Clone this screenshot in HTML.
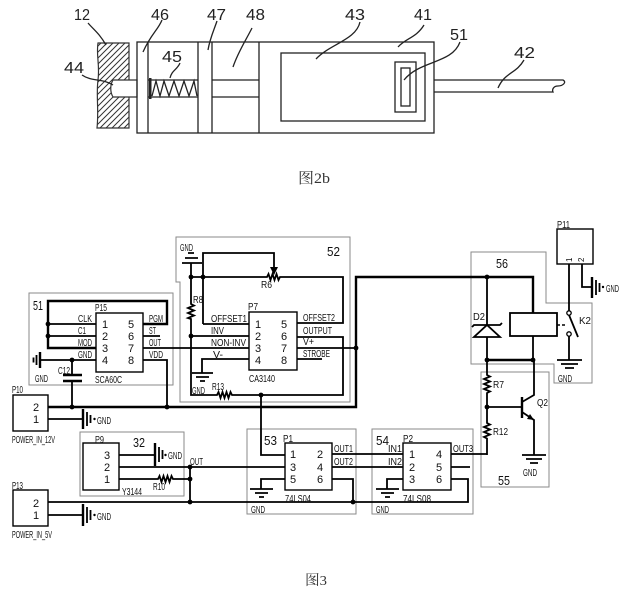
<!DOCTYPE html>
<html><head><meta charset="utf-8"><style>
html,body{margin:0;padding:0;background:#fff;}
svg{display:block;}
.w{stroke:#000;stroke-width:1.8;fill:none;}
.t{stroke:#000;stroke-width:2.4;fill:none;}
.b{stroke:#8a8a8a;stroke-width:1;fill:none;}
.c{stroke:#000;stroke-width:1.4;fill:#fff;}
.m{stroke:#222;stroke-width:1.3;fill:none;}
text{font-family:"Liberation Sans Narrow","Liberation Sans",sans-serif;fill:#111;}
.s{font-size:10px;}
.n{font-size:11px;}
.L{font-size:16px;fill:#222;}
</style></head><body>
<svg width="632" height="592" viewBox="0 0 632 592" xmlns="http://www.w3.org/2000/svg">
<defs>
<pattern id="h" patternUnits="userSpaceOnUse" width="6" height="6">
<path d="M-1,1 l2,-2 M0,6 l6,-6 M5,7 l2,-2" stroke="#333" stroke-width="1"/>
</pattern>
</defs>
<rect width="632" height="592" fill="#fff"/>

<!-- ===== Figure 2b ===== -->
<path d="M98,43 H129 V128 H97 C99,110 96,95 98,80 C100,65 96,55 98,43 Z" fill="url(#h)" stroke="#333" stroke-width="1.2"/>
<path d="M113,80 H137 V97 H113 C110,92 110,85 113,80 Z" fill="#fff" stroke="#333" stroke-width="1.2"/>
<rect x="137" y="42" width="297" height="91" class="m" fill="#fff"/>
<path class="m" d="M148,42 V133 M198,42 V133 M212,42 V133 M259,42 V133"/>
<path class="m" d="M148,80 H198 M148,97 H198 M212,80 H259 M212,97 H259"/>
<rect x="149" y="78" width="2.5" height="21" fill="#222"/>
<path class="m" d="M152,96 L156,81 L160,96 L164,81 L169,96 L174,81 L179,96 L184,81 L189,96 L194,81 L197,96"/>
<rect x="281" y="53" width="144" height="68" class="m"/>
<rect x="395" y="62" width="21" height="50" class="m"/>
<rect x="401" y="68" width="9" height="38" class="m"/>
<path class="m" d="M434,80 H563 C567,82 563,86 558,86 C553,86 552,90 553,92 H434"/>
<!-- leaders -->
<path class="m" d="M88,23 C94,30 99,33 106,45"/>
<path class="m" d="M162,20 C158,30 151,34 143,52"/>
<path class="m" d="M217,21 C214,30 210,38 208,50"/>
<path class="m" d="M252,28 C246,40 238,52 233,67"/>
<path class="m" d="M180,63 C177,70 172,70 170,78"/>
<path class="m" d="M82,75 C92,82 102,78 113,85"/>
<path class="m" d="M360,22 C356,40 330,44 316,59"/>
<path class="m" d="M424,25 C416,38 406,38 398,47"/>
<path class="m" d="M460,42 C452,64 420,60 404,80"/>
<path class="m" d="M524,60 C516,74 505,72 498,88"/>
<text class="L" x="74" y="20" textLength="16" lengthAdjust="spacingAndGlyphs">12</text>
<text class="L" x="151" y="20" textLength="18" lengthAdjust="spacingAndGlyphs">46</text>
<text class="L" x="207" y="20" textLength="19" lengthAdjust="spacingAndGlyphs">47</text>
<text class="L" x="246" y="20" textLength="19" lengthAdjust="spacingAndGlyphs">48</text>
<text class="L" x="345" y="20" textLength="20" lengthAdjust="spacingAndGlyphs">43</text>
<text class="L" x="414" y="20" textLength="18" lengthAdjust="spacingAndGlyphs">41</text>
<text class="L" x="450" y="40" textLength="18" lengthAdjust="spacingAndGlyphs">51</text>
<text class="L" x="514" y="58" textLength="21" lengthAdjust="spacingAndGlyphs">42</text>
<text class="L" x="64" y="73" textLength="20" lengthAdjust="spacingAndGlyphs">44</text>
<text class="L" x="162" y="62" textLength="20" lengthAdjust="spacingAndGlyphs">45</text>
<text x="298" y="183" style="font-family:'Liberation Serif','Noto Serif CJK SC',serif;font-size:15px;fill:#333" textLength="32" lengthAdjust="spacingAndGlyphs">图2b</text>

<!-- ===== Figure 3 ===== -->
<!-- block outlines -->
<rect x="29" y="293" width="144" height="92" class="b"/>
<path class="b" d="M176,237 H350 V402 H180 V282 H176 Z"/>
<path class="b" d="M471,252 H546 V303 H592 V383 H554 V364 H471 Z"/>
<rect x="481" y="372" width="68" height="115" class="b"/>
<rect x="80" y="432" width="104" height="64" class="b"/>
<rect x="247" y="429" width="109" height="85" class="b"/>
<rect x="372" y="429" width="101" height="85" class="b"/>

<!-- Block 51 : SCA60C -->
<rect x="96" y="313" width="47" height="59" class="c"/>
<path class="t" d="M143,324 H167 V301 H48 V348 H96"/>
<path class="w" d="M48,324 H96 M48,336 H96 M143,336 H160"/>
<path class="w" d="M143,360 H167 V407"/>
<path class="w" d="M40,360 H96"/>
<path class="t" d="M40,352 V368"/>
<path class="w" d="M36.5,355 V365 M33.5,357.5 V362.5"/>
<path class="w" d="M72,360 V375 M72,381 V407"/>
<path class="t" d="M63,375 H82 M63,381 H82"/>
<text class="s" x="33" y="310" style="font-size:13px" textLength="10" lengthAdjust="spacingAndGlyphs">51</text>
<text class="s" x="95" y="311" textLength="12" lengthAdjust="spacingAndGlyphs">P15</text>
<text class="s" x="78" y="322" textLength="14" lengthAdjust="spacingAndGlyphs">CLK</text>
<text class="s" x="78" y="334" textLength="8" lengthAdjust="spacingAndGlyphs">C1</text>
<text class="s" x="78" y="346" textLength="14" lengthAdjust="spacingAndGlyphs">MOD</text>
<text class="s" x="78" y="358" textLength="14" lengthAdjust="spacingAndGlyphs">GND</text>
<text class="s" x="149" y="322" textLength="14" lengthAdjust="spacingAndGlyphs">PGM</text>
<text class="s" x="149" y="334" textLength="7" lengthAdjust="spacingAndGlyphs">ST</text>
<text class="s" x="149" y="346" textLength="12" lengthAdjust="spacingAndGlyphs">OUT</text>
<text class="s" x="149" y="358" textLength="14" lengthAdjust="spacingAndGlyphs">VDD</text>
<text class="s" x="95" y="383" textLength="27" lengthAdjust="spacingAndGlyphs">SCA60C</text>
<text class="s" x="58" y="374" textLength="12" lengthAdjust="spacingAndGlyphs">C12</text>
<text class="s" x="35" y="382" textLength="13" lengthAdjust="spacingAndGlyphs">GND</text>
<g class="n" text-anchor="middle">
<text x="105" y="328">1</text><text x="105" y="340">2</text><text x="105" y="352">3</text><text x="105" y="364">4</text>
<text x="131" y="328">5</text><text x="131" y="340">6</text><text x="131" y="352">7</text><text x="131" y="364">8</text>
</g>

<!-- Block 52 : CA3140 -->
<rect x="249" y="312" width="48" height="58" class="c"/>
<path class="w" d="M182,263 H202 M185,258 H198 M188,253 H194"/>
<path class="w" d="M191,263 V304 L194,305.5 L188,308 L194,310.5 L188,313 L194,315.5 L188,318 L191,319 V395 H217 L218.5,392 L220.5,398 L222.5,392 L224.5,398 L226.5,392 L228.5,398 L230.5,392 L232,395 H343 V337 H297"/>
<path class="w" d="M191,277 H267 L268.5,274 L270.5,280 L272.5,274 L274.5,280 L276.5,274 L278.5,280 L280,277 H343 V323 H297"/>
<path class="w" d="M203,324 V253 H274 V268"/>
<path d="M270,267 L278,267 L274,275 Z" fill="#000"/>
<path class="w" d="M203,324 H249 M191,336 H249 M143,348 H249"/>
<path class="w" d="M249,359 H202 V373"/>
<path class="w" d="M192,373 H213 M196,377 H209 M200,381 H205"/>
<path class="w" d="M297,348 H356 M297,359 H322"/>
<path class="w" d="M261,395 V455 H285"/>
<path class="t" d="M48,407 H356 V277 H533 V313"/>
<text class="s" x="180" y="251" textLength="13" lengthAdjust="spacingAndGlyphs">GND</text>
<text class="s" x="327" y="256" style="font-size:13px" textLength="13" lengthAdjust="spacingAndGlyphs">52</text>
<text class="s" x="193" y="303" textLength="10" lengthAdjust="spacingAndGlyphs">R8</text>
<text class="s" x="261" y="288" textLength="11" lengthAdjust="spacingAndGlyphs">R6</text>
<text class="s" x="248" y="310" textLength="10" lengthAdjust="spacingAndGlyphs">P7</text>
<text class="s" x="211" y="322" textLength="36" lengthAdjust="spacingAndGlyphs">OFFSET1</text>
<text class="s" x="211" y="334" textLength="13" lengthAdjust="spacingAndGlyphs">INV</text>
<text class="s" x="211" y="346" textLength="35" lengthAdjust="spacingAndGlyphs">NON-INV</text>
<text class="s" x="213" y="358" textLength="10" lengthAdjust="spacingAndGlyphs">V-</text>
<text class="s" x="303" y="321" textLength="32" lengthAdjust="spacingAndGlyphs">OFFSET2</text>
<text class="s" x="303" y="334" textLength="29" lengthAdjust="spacingAndGlyphs">OUTPUT</text>
<text class="s" x="303" y="345" textLength="11" lengthAdjust="spacingAndGlyphs">V+</text>
<text class="s" x="303" y="357" textLength="27" lengthAdjust="spacingAndGlyphs">STROBE</text>
<text class="s" x="249" y="382" textLength="26" lengthAdjust="spacingAndGlyphs">CA3140</text>
<text class="s" x="192" y="394" textLength="13" lengthAdjust="spacingAndGlyphs">GND</text>
<text class="s" x="212" y="390" textLength="12" lengthAdjust="spacingAndGlyphs">R13</text>
<g class="n" text-anchor="middle">
<text x="258" y="328">1</text><text x="258" y="340">2</text><text x="258" y="352">3</text><text x="258" y="364">4</text>
<text x="284" y="328">5</text><text x="284" y="340">6</text><text x="284" y="352">7</text><text x="284" y="364">8</text>
</g>

<!-- P10 -->
<rect x="13" y="395" width="35" height="36" class="c"/>
<path class="w" d="M48,419 H83"/>
<path class="t" d="M83,409 V429"/>
<path class="w" d="M87,412 V426 M90.5,415 V423"/>
<circle cx="94.5" cy="419" r="1.2" fill="#000"/>
<text class="s" x="97" y="424" textLength="14" lengthAdjust="spacingAndGlyphs">GND</text>
<text class="s" x="12" y="393" textLength="11" lengthAdjust="spacingAndGlyphs">P10</text>
<text class="n" x="36" y="411" text-anchor="middle">2</text>
<text class="n" x="36" y="423" text-anchor="middle">1</text>
<text class="s" x="12" y="443" textLength="43" lengthAdjust="spacingAndGlyphs">POWER_IN_12V</text>

<!-- P13 -->
<rect x="13" y="490" width="35" height="36" class="c"/>
<path class="w" d="M48,502 H468 V479 H451"/>
<path class="w" d="M353,502 V479 H332"/>
<path class="w" d="M48,515 H83"/>
<path class="t" d="M83,504 V526"/>
<path class="w" d="M87,507 V523 M90.5,510 V520"/>
<circle cx="94.5" cy="515" r="1.2" fill="#000"/>
<text class="s" x="97" y="520" textLength="14" lengthAdjust="spacingAndGlyphs">GND</text>
<text class="s" x="12" y="489" textLength="11" lengthAdjust="spacingAndGlyphs">P13</text>
<text class="n" x="36" y="507" text-anchor="middle">2</text>
<text class="n" x="36" y="519" text-anchor="middle">1</text>
<text class="s" x="12" y="538" textLength="40" lengthAdjust="spacingAndGlyphs">POWER_IN_5V</text>

<!-- Block 32 : Y3144 -->
<rect x="83" y="443" width="36" height="47" class="c"/>
<path class="w" d="M119,455 H155"/>
<path class="t" d="M155,443 V466"/>
<path class="w" d="M159,447 V462 M162.5,450 V459"/>
<circle cx="165.5" cy="455" r="1.2" fill="#000"/>
<text class="s" x="168" y="459" textLength="14" lengthAdjust="spacingAndGlyphs">GND</text>
<path class="w" d="M119,467 H285"/>
<path class="w" d="M119,479 H158 L159.5,476 L161.5,482 L163.5,476 L165.5,482 L167.5,476 L169.5,482 L171.5,476 L173,479 H190"/>
<path class="w" d="M190,467 V502"/>
<text class="s" x="95" y="443" textLength="9" lengthAdjust="spacingAndGlyphs">P9</text>
<text class="s" x="133" y="447" style="font-size:13px" textLength="12" lengthAdjust="spacingAndGlyphs">32</text>
<text class="s" x="122" y="495" textLength="20" lengthAdjust="spacingAndGlyphs">Y3144</text>
<text class="s" x="153" y="490" textLength="12" lengthAdjust="spacingAndGlyphs">R10</text>
<text class="s" x="190" y="465" textLength="13" lengthAdjust="spacingAndGlyphs">OUT</text>
<g class="n" text-anchor="middle">
<text x="107" y="459">3</text><text x="107" y="471">2</text><text x="107" y="483">1</text>
</g>

<!-- Block 53 : 74LS04 -->
<rect x="285" y="443" width="47" height="47" class="c"/>
<path class="w" d="M332,454 H403 M332,467 H403"/>
<path class="w" d="M285,479 H261 V489"/>
<path class="w" d="M250,489 H273 M255,493 H268 M259,497 H264"/>
<text class="s" x="264" y="445" style="font-size:13px" textLength="13" lengthAdjust="spacingAndGlyphs">53</text>
<text class="s" x="283" y="442" textLength="10" lengthAdjust="spacingAndGlyphs">P1</text>
<text class="s" x="334" y="452" textLength="19" lengthAdjust="spacingAndGlyphs">OUT1</text>
<text class="s" x="334" y="465" textLength="19" lengthAdjust="spacingAndGlyphs">OUT2</text>
<text class="s" x="285" y="502" textLength="26" lengthAdjust="spacingAndGlyphs">74LS04</text>
<text class="s" x="251" y="513" textLength="14" lengthAdjust="spacingAndGlyphs">GND</text>
<g class="n" text-anchor="middle">
<text x="293" y="458">1</text><text x="293" y="471">3</text><text x="293" y="483">5</text>
<text x="320" y="458">2</text><text x="320" y="471">4</text><text x="320" y="483">6</text>
</g>

<!-- Block 54 : 74LS08 -->
<rect x="403" y="443" width="48" height="47" class="c"/>
<path class="w" d="M403,479 H387 V489"/>
<path class="w" d="M376,489 H399 M381,493 H394 M385,497 H390"/>
<path class="w" d="M451,454 H487 M451,467 H470"/>
<text class="s" x="376" y="445" style="font-size:13px" textLength="13" lengthAdjust="spacingAndGlyphs">54</text>
<text class="s" x="403" y="442" textLength="10" lengthAdjust="spacingAndGlyphs">P2</text>
<text class="s" x="388" y="452" textLength="14" lengthAdjust="spacingAndGlyphs">IN1</text>
<text class="s" x="388" y="465" textLength="14" lengthAdjust="spacingAndGlyphs">IN2</text>
<text class="s" x="453" y="452" textLength="20" lengthAdjust="spacingAndGlyphs">OUT3</text>
<text class="s" x="403" y="502" textLength="28" lengthAdjust="spacingAndGlyphs">74LS08</text>
<text class="s" x="376" y="513" textLength="13" lengthAdjust="spacingAndGlyphs">GND</text>
<g class="n" text-anchor="middle">
<text x="412" y="458">1</text><text x="412" y="471">2</text><text x="412" y="483">3</text>
<text x="439" y="458">4</text><text x="439" y="471">5</text><text x="439" y="483">6</text>
</g>

<!-- Block 55 : transistor -->
<path class="w" d="M487,360 V375 L490,376.5 L484,379 L490,381.5 L484,384 L490,386.5 L484,389 L490,391.5 L487,393 V423 L490,424.5 L484,427 L490,429.5 L484,432 L490,434.5 L484,437 L487,438.5 V455"/>
<path class="w" d="M487,407 H522"/>
<path class="t" d="M522,397 V418"/>
<path class="w" d="M522,402 L534,395 V360"/>
<path class="w" d="M522,412 L534,420 V455"/>
<path d="M534,420 L527,419 L530,414 Z" fill="#000"/>
<path class="w" d="M522,455 H546 M526,459 H542 M530,463 H538"/>
<text class="s" x="493" y="388" textLength="11" lengthAdjust="spacingAndGlyphs">R7</text>
<text class="s" x="493" y="435" textLength="15" lengthAdjust="spacingAndGlyphs">R12</text>
<text class="s" x="537" y="406" textLength="11" lengthAdjust="spacingAndGlyphs">Q2</text>
<text class="s" x="523" y="476" textLength="14" lengthAdjust="spacingAndGlyphs">GND</text>
<text class="s" x="498" y="485" style="font-size:13px" textLength="12" lengthAdjust="spacingAndGlyphs">55</text>

<!-- Block 56 : relay -->
<path class="w" d="M487,277 V360"/>
<path d="M474,337 H500 L487,325 Z" fill="#fff" stroke="#000" stroke-width="1.8"/>
<path class="w" d="M472,327 L474,325 H500 L502,323"/>
<rect x="510" y="313" width="47" height="23" class="c" style="stroke-width:1.8"/>
<path class="w" d="M533,336 V360"/>
<path class="t" d="M487,360 H533"/>
<path d="M557,325 H567" stroke="#000" stroke-width="1.6" stroke-dasharray="3,2"/>
<circle cx="569" cy="313" r="2.2" fill="#fff" stroke="#000" stroke-width="1.3"/>
<circle cx="569" cy="334" r="2.2" fill="#fff" stroke="#000" stroke-width="1.3"/>
<path class="w" d="M569,315 L578,337"/>
<path class="w" d="M569,264 V311 M569,336 V360"/>
<path class="w" d="M557,360 H582 M561,364 H578 M565,368 H574"/>
<text class="s" x="473" y="320" textLength="12" lengthAdjust="spacingAndGlyphs">D2</text>
<text class="s" x="496" y="268" style="font-size:13px" textLength="12" lengthAdjust="spacingAndGlyphs">56</text>
<text class="s" x="579" y="324" textLength="12" lengthAdjust="spacingAndGlyphs">K2</text>
<text class="s" x="558" y="382" textLength="14" lengthAdjust="spacingAndGlyphs">GND</text>

<!-- P11 -->
<rect x="557" y="229" width="36" height="35" class="c"/>
<path class="w" d="M582,264 V287 H592"/>
<path class="t" d="M592,277 V298"/>
<path class="w" d="M596,280 V295 M599.5,283 V292"/>
<circle cx="603" cy="287" r="1.2" fill="#000"/>
<text class="s" x="606" y="292" textLength="13" lengthAdjust="spacingAndGlyphs">GND</text>
<text class="s" x="557" y="228" textLength="13" lengthAdjust="spacingAndGlyphs">P11</text>
<text style="font-size:8px" transform="translate(572,262) rotate(-90)">1</text>
<text style="font-size:8px" transform="translate(584,262) rotate(-90)">2</text>

<!-- junction dots -->
<g fill="#000">
<circle cx="48" cy="324" r="2.4"/><circle cx="48" cy="336" r="2.4"/>
<circle cx="72" cy="360" r="2.4"/><circle cx="72" cy="407" r="2.4"/>
<circle cx="167" cy="407" r="2.4"/>
<circle cx="191" cy="277" r="2.4"/><circle cx="203" cy="277" r="2.4"/>
<circle cx="191" cy="336" r="2.4"/>
<circle cx="261" cy="395" r="2.4"/>
<circle cx="356" cy="348" r="2.4"/>
<circle cx="190" cy="467" r="2.4"/><circle cx="190" cy="479" r="2.4"/><circle cx="190" cy="502" r="2.4"/>
<circle cx="353" cy="502" r="2.4"/>
<circle cx="487" cy="277" r="2.4"/><circle cx="487" cy="360" r="2.4"/><circle cx="533" cy="360" r="2.4"/>
<circle cx="487" cy="407" r="2.4"/><circle cx="534" cy="360" r="0"/>
</g>

<text x="305" y="585" style="font-family:'Liberation Serif','Noto Serif CJK SC',serif;font-size:14px;fill:#333" textLength="22" lengthAdjust="spacingAndGlyphs">图3</text>
</svg>
</body></html>
